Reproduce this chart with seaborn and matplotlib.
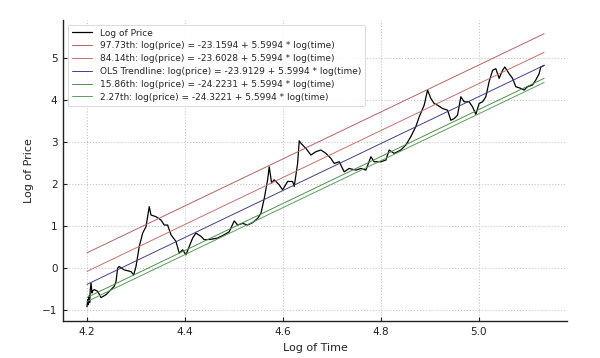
import matplotlib
matplotlib.use("Agg")
import matplotlib.pyplot as plt
import seaborn as sns
import numpy as np
import pandas as pd

# ---- data ----
log_time = [
    4.2000, 4.2014, 4.2027, 4.2041, 4.2055, 4.2067, 4.2082, 4.2102, 4.2116, 4.2149,
    4.2218, 4.2286, 4.2388, 4.2490, 4.2557, 4.2592, 4.2627, 4.2659, 4.2761, 4.2898,
    4.2953, 4.3000, 4.3067, 4.3137, 4.3204, 4.3271, 4.3306, 4.3408, 4.3510, 4.3578,
    4.3647, 4.3714, 4.3816, 4.3884, 4.3953, 4.4020, 4.4088, 4.4157, 4.4224, 4.4327,
    4.4394, 4.4531, 4.4667, 4.4802, 4.4904, 4.5006, 4.5076, 4.5178, 4.5280, 4.5382,
    4.5484, 4.5551, 4.5618, 4.5688, 4.5720, 4.5769, 4.5822, 4.5924, 4.5994, 4.6096,
    4.6198, 4.6231, 4.6300, 4.6333, 4.6367, 4.6469, 4.6571, 4.6673, 4.6776, 4.6878,
    4.6980, 4.7047, 4.7149, 4.7251, 4.7353, 4.7490, 4.7592, 4.7694, 4.7796, 4.7863,
    4.8000, 4.8102, 4.8169, 4.8271, 4.8408, 4.8510, 4.8612, 4.8714, 4.8782, 4.8884,
    4.8953, 4.9020, 4.9088, 4.9157, 4.9259, 4.9361, 4.9429, 4.9496, 4.9565, 4.9633,
    4.9700, 4.9802, 4.9871, 4.9939, 5.0006, 5.0076, 5.0143, 5.0210, 5.0280, 5.0347,
    5.0414, 5.0484, 5.0531, 5.0618, 5.0688, 5.0755, 5.0857, 5.0924, 5.0994, 5.1096,
    5.1163, 5.1231, 5.1265, 5.1333,
]
log_price = [
    -0.93, -0.76, -0.88, -0.67, -0.83, -0.52, -0.36, -0.60, -0.55, -0.52,
    -0.56, -0.71, -0.64, -0.52, -0.44, -0.33, 0.00, 0.03, -0.05, -0.09,
    -0.17, 0.03, 0.51, 0.83, 0.98, 1.46, 1.26, 1.22, 1.14, 1.02,
    1.02, 0.79, 0.63, 0.35, 0.43, 0.31, 0.51, 0.71, 0.83, 0.75,
    0.67, 0.68, 0.71, 0.79, 0.86, 1.12, 1.02, 1.06, 1.02, 1.08,
    1.18, 1.30, 1.65, 2.10, 2.41, 2.02, 2.10, 1.98, 1.86, 2.06,
    2.06, 1.94, 2.49, 3.03, 2.97, 2.85, 2.69, 2.77, 2.81, 2.73,
    2.61, 2.49, 2.53, 2.29, 2.37, 2.33, 2.37, 2.33, 2.65, 2.53,
    2.53, 2.57, 2.81, 2.73, 2.81, 2.93, 3.13, 3.37, 3.60, 3.88,
    4.24, 4.04, 3.92, 3.88, 3.80, 3.76, 3.52, 3.56, 3.64, 4.08,
    3.96, 3.96, 3.84, 3.66, 3.92, 3.96, 4.08, 4.44, 4.71, 4.75,
    4.52, 4.71, 4.79, 4.63, 4.52, 4.32, 4.28, 4.24, 4.32, 4.36,
    4.48, 4.63, 4.79, 4.83,
]

slope = 5.5994
band_names = ["97.73th", "84.14th", "OLS Trendline", "15.86th", "2.27th"]
band_intercepts = [-23.1594, -23.6028, -23.9129, -24.2231, -24.3221]
band_colors = ["#b46464", "#c87070", "#40408c", "#4f8f4f", "#5c9c5c"]

x_ticks = [4.2, 4.4, 4.6, 4.8, 5.0]
y_ticks = [-1, 0, 1, 2, 3, 4, 5]

# ---- plotting ----
sns.set_theme(style="ticks")
plt.rcParams["font.family"] = ["DejaVu Sans"]

fig = plt.figure(figsize=(6.0, 3.58), dpi=100)
ax = fig.add_axes([0.105, 0.102, 0.84, 0.842])

df = pd.DataFrame({"Log of Time": log_time, "Log of Price": log_price})
sns.lineplot(data=df, x="Log of Time", y="Log of Price", ax=ax, color="black",
             lw=0.9, estimator=None, sort=False, label="Log of Price")

xs = np.array(log_time)
for name, b0, c in zip(band_names, band_intercepts, band_colors):
    lab = f"{name}: log(price) = {b0:.4f} + {slope:.4f} * log(time)"
    band_df = pd.DataFrame({"x": xs, "y": b0 + slope * xs})
    sns.lineplot(data=band_df, x="x", y="y", ax=ax, color=c, lw=0.7,
                 estimator=None, sort=False, label=lab)

ax.set_xlim(4.151, 5.180)
ax.set_ylim(-1.28, 5.91)
ax.set_xticks(x_ticks)
ax.set_xticklabels([f"{t:.1f}" for t in x_ticks])
ax.set_yticks(y_ticks)
ax.set_yticklabels([f"{t}" if t >= 0 else f"\u2212{abs(t)}" for t in y_ticks])

ax.grid(True, linestyle=":", color="#c8c8c8", linewidth=0.8)
for s in ["top", "right"]:
    ax.spines[s].set_visible(False)
for s in ["left", "bottom"]:
    ax.spines[s].set_color("#222222")
    ax.spines[s].set_linewidth(1.0)
ax.tick_params(direction="in", length=3, width=0.8, labelsize=7.5,
               colors="#222222", pad=4)

ax.set_xlabel("Log of Time", fontsize=8, color="#222222", labelpad=4)
ax.set_ylabel("Log of Price", fontsize=8, color="#222222", labelpad=6)

leg = ax.legend(loc="upper left", fontsize=6.5, frameon=True, framealpha=0.9,
                edgecolor="#d0d0d0", handlelength=2.3, borderpad=0.45,
                labelspacing=0.42, bbox_to_anchor=(0.0, 1.0))
leg.get_frame().set_linewidth(0.6)

fig.savefig("out.png", dpi=100)
